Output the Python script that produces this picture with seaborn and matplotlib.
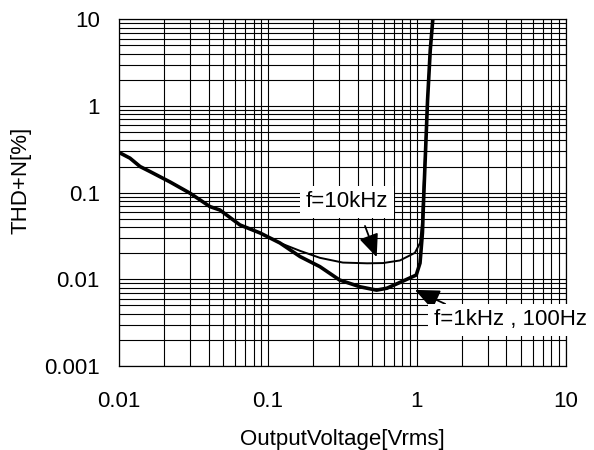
import numpy as np
import pandas as pd
import matplotlib
matplotlib.use('Agg')
import matplotlib.pyplot as plt
import seaborn as sns
from matplotlib.ticker import LogLocator, FixedLocator, NullFormatter

# THD+N vs output voltage
v_10k = [0.01, 0.0118, 0.0138, 0.0161, 0.0219, 0.0299, 0.0407, 0.0475, 0.0647, 0.0882, 0.103, 0.120,
         0.164, 0.223, 0.318, 0.463, 0.592, 0.769, 0.97, 1.05, 1.08, 1.10, 1.18, 1.23, 1.28]
thd_10k = [0.29, 0.25, 0.20, 0.175, 0.133, 0.0985, 0.069, 0.063, 0.0424, 0.0343, 0.030, 0.0263,
           0.0213, 0.0177, 0.0156, 0.0153, 0.0154, 0.0165, 0.0202, 0.0263, 0.0424, 0.083, 1.17, 4.4, 10.0]

v_1k = [0.01, 0.0118, 0.0138, 0.0161, 0.0219, 0.0299, 0.0407, 0.0475, 0.0647, 0.0882, 0.103, 0.120,
        0.164, 0.223, 0.303, 0.415, 0.536, 0.63, 0.769, 0.99, 1.05, 1.09, 1.11, 1.18, 1.23, 1.28]
thd_1k = [0.29, 0.25, 0.20, 0.175, 0.133, 0.0985, 0.069, 0.063, 0.0424, 0.0343, 0.030, 0.0263,
          0.0183, 0.0140, 0.0098, 0.0082, 0.0075, 0.0079, 0.0092, 0.0112, 0.0154, 0.0343, 0.083, 1.17, 4.4, 10.0]

x_ticks = [0.01, 0.1, 1, 10]
x_ticklabels = ['0.01', '0.1', '1', '10']
y_ticks = [0.001, 0.01, 0.1, 1, 10]
y_ticklabels = ['0.001', '0.01', '0.1', '1', '10']

df_10k = pd.DataFrame({'Vout': v_10k, 'THD': thd_10k})
df_1k = pd.DataFrame({'Vout': v_1k, 'THD': thd_1k})

sns.set_style('white')
plt.rcParams['font.family'] = ['Liberation Sans', 'DejaVu Sans']
plt.rcParams['text.color'] = 'black'
plt.rcParams['axes.labelcolor'] = 'black'

fig = plt.figure(figsize=(5.94, 4.5), dpi=100)
ax = fig.add_axes([0.2008, 0.1867, 0.7515, 0.7704])

sns.lineplot(data=df_10k, x='Vout', y='THD', ax=ax, color='black', lw=1.4,
             sort=False, estimator=None)
sns.lineplot(data=df_1k, x='Vout', y='THD', ax=ax, color='black', lw=2.6,
             sort=False, estimator=None)

ax.set_xscale('log')
ax.set_yscale('log')
ax.set_xlim(0.01, 10)
ax.set_ylim(0.001, 10)

ax.xaxis.set_major_locator(FixedLocator(x_ticks))
ax.set_xticklabels(x_ticklabels)
ax.yaxis.set_major_locator(FixedLocator(y_ticks))
ax.set_yticklabels(y_ticklabels)
ax.xaxis.set_minor_locator(LogLocator(base=10, subs=np.arange(2, 10)))
ax.yaxis.set_minor_locator(LogLocator(base=10, subs=np.arange(2, 10)))
ax.xaxis.set_minor_formatter(NullFormatter())
ax.yaxis.set_minor_formatter(NullFormatter())

ax.grid(True, which='both', color='black', lw=0.8)
ax.tick_params(which='both', length=0, labelsize=16, colors='black')
ax.tick_params(axis='x', pad=18)
ax.tick_params(axis='y', pad=14)
for s in ax.spines.values():
    s.set_color('black')
    s.set_linewidth(0.9)

ax.set_xlabel('OutputVoltage[Vrms]', fontsize=16, labelpad=12)
ax.set_ylabel('THD+N[%]', fontsize=16)
ax.yaxis.set_label_coords(-0.196, 0.536)

# annotations
ax.text(0.339, 0.078, 'f=10kHz', fontsize=16, ha='center', va='center',
        bbox=dict(fc='white', ec='none', pad=4), zorder=5)
ax.annotate('', xy=(0.537, 0.018), xytext=(0.448, 0.0413),
            arrowprops=dict(arrowstyle='-|>,head_length=1.4,head_width=0.6',
                            color='black', lw=1.3, shrinkA=0, shrinkB=0), zorder=6)

ax.annotate('', xy=(0.97, 0.00755), xytext=(1.55, 0.0052),
            arrowprops=dict(arrowstyle='-|>,head_length=1.5,head_width=0.65',
                            color='black', lw=1.3, shrinkA=0, shrinkB=0), zorder=6)
ax.text(4.23, 0.0034, 'f=1kHz , 100Hz', fontsize=16, ha='center', va='center',
        bbox=dict(fc='white', ec='none', pad=4), zorder=7, clip_on=False)

plt.savefig('out.png', dpi=100)
